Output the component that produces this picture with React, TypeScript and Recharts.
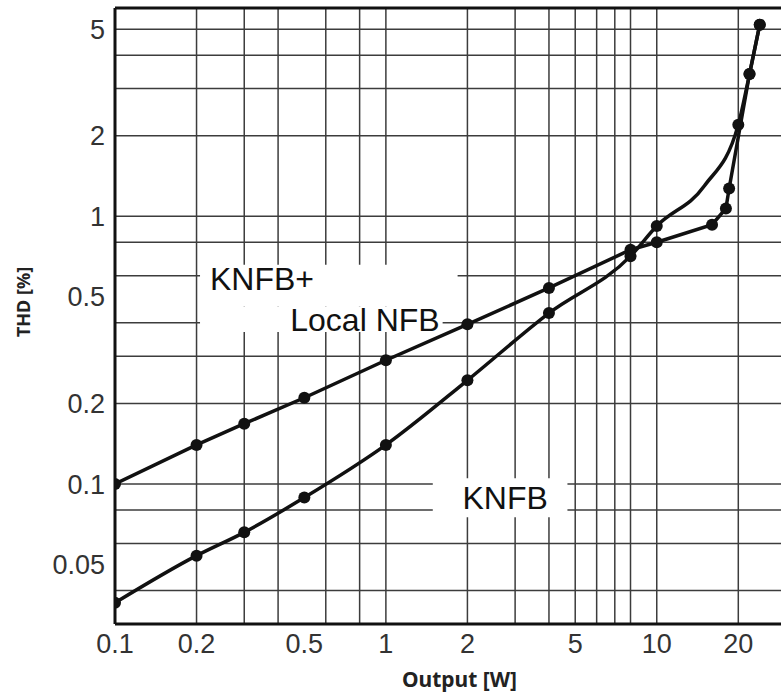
import React from "react";
import {
  CartesianGrid,
  ComposedChart,
  Line,
  ReferenceArea,
  ReferenceLine,
  XAxis,
  YAxis
} from "recharts";

// Output power [W] and THD [%] for each amplifier configuration
const knfbLocalW = [0.1, 0.2, 0.3, 0.5, 1, 2, 4, 8, 10, 16, 18, 18.5, 22, 24];
const knfbLocalThd = [0.1, 0.14, 0.168, 0.21, 0.29, 0.395, 0.54, 0.75, 0.8, 0.93, 1.07, 1.27, 3.4, 5.2];

const knfbW = [0.1, 0.2, 0.3, 0.5, 1, 2, 4, 8, 10, 15, 20, 22, 24];
const knfbThd = [0.036, 0.054, 0.066, 0.089, 0.14, 0.244, 0.435, 0.71, 0.92, 1.3, 2.2, 3.4, 5.2];
// points read along the drawn curve that carry no marker
const knfbUnmarked = [15];

const xTicks = [0.1, 0.2, 0.5, 1, 2, 5, 10, 20];
const yTicks = [0.05, 0.1, 0.2, 0.5, 1, 2, 5];

const xGrid = [0.2, 0.3, 0.4, 0.5, 0.6, 0.7, 0.8, 0.9, 1, 2, 3, 4, 5, 6, 7, 8, 9, 10, 20];
const yGrid = [
  0.04, 0.05, 0.06, 0.07, 0.08, 0.09, 0.1, 0.2, 0.3, 0.4, 0.5, 0.6, 0.7, 0.8, 0.9, 1, 2, 3, 4, 5
];

const knfbLocalData = knfbLocalW.map((w, i) => ({ w, thd: knfbLocalThd[i] }));
const knfbData = knfbW.map((w, i) => ({ w, thd: knfbThd[i] }));

const INK = "#111";
const DOT_R = 6;
const tickStyle = { fill: "#333", fontSize: 27, fontFamily: "Liberation Sans" };
const curveLabel = { fill: INK, fontSize: 32, fontFamily: "Liberation Sans" };

const knfbDot = (props: any) => {
  const { cx, cy, payload, index } = props;
  if (knfbUnmarked.includes(payload.w)) return <g key={`u-${index}`} />;
  return <circle key={`d-${index}`} cx={cx} cy={cy} r={DOT_R} fill={INK} />;
};

function ThdTitle(props: any) {
  const { viewBox } = props;
  const x = viewBox.x + 23;
  const y = viewBox.y + viewBox.height / 2 - 14;
  return (
    <text
      x={x}
      y={y}
      transform={`rotate(-90 ${x} ${y})`}
      textAnchor="middle"
      dominantBaseline="central"
      fill="#222"
      fontSize={18}
      fontWeight={700}
      fontFamily="Noto Sans"
    >
      THD [%]
    </text>
  );
}

export default function App() {
  return (
    <div style={{ position: "absolute", left: 0, top: 0, width: 781, height: 697, overflow: "hidden", background: "#fff" }}>
      <ComposedChart width={786} height={697} margin={{ top: 8, right: 0, bottom: 0, left: 0 }}>
        <CartesianGrid
          stroke="#3c3c3c"
          strokeWidth={1.5}
          horizontalValues={yGrid}
          verticalValues={xGrid}
        />
        <XAxis
          dataKey="w"
          type="number"
          scale="log"
          domain={[0.1, 30]}
          allowDataOverflow
          ticks={xTicks}
          tickFormatter={(v: number) => String(v)}
          height={73}
          tickLine={false}
          tickSize={0}
          tickMargin={10}
          axisLine={{ stroke: INK, strokeWidth: 3 }}
          tick={tickStyle}
          label={{
            value: "Output [W]",
            position: "insideBottom",
            offset: 10,
            dx: 9,
            fill: "#222",
            fontSize: 21,
            fontWeight: 700,
            fontFamily: "Noto Sans"
          }}
        />
        <YAxis
          type="number"
          scale="log"
          domain={[0.03, 6]}
          allowDataOverflow
          ticks={yTicks}
          tickFormatter={(v: number) => String(v)}
          width={115}
          tickLine={false}
          tickSize={0}
          tickMargin={10}
          axisLine={{ stroke: INK, strokeWidth: 3 }}
          tick={tickStyle}
          label={<ThdTitle />}
        />
        <ReferenceLine y={6} stroke={INK} strokeWidth={3} />

        {/* white panels behind the curve names */}
        <ReferenceArea
          x1={0.206}
          x2={1.84}
          y1={0.46}
          y2={0.66}
          fill="#fff"
          fillOpacity={1}
          stroke="none"
          label={{ value: "KNFB+", position: "insideTopLeft", offset: 3, dx: 7, ...curveLabel }}
        />
        <ReferenceArea
          x1={0.206}
          x2={1.62}
          y1={0.37}
          y2={0.46}
          fill="#fff"
          fillOpacity={1}
          stroke="none"
          label={{ value: "Local NFB", position: "insideRight", offset: 3, ...curveLabel }}
        />
        <ReferenceArea
          x1={1.49}
          x2={4.68}
          y1={0.0751}
          y2={0.105}
          fill="#fff"
          fillOpacity={1}
          stroke="none"
          label={{ value: "KNFB", position: "center", dx: 5, ...curveLabel }}
        />

        <Line
          data={knfbLocalData}
          dataKey="thd"
          type="linear"
          stroke={INK}
          strokeWidth={3.5}
          dot={{ r: DOT_R, fill: INK, stroke: INK, strokeWidth: 0 }}
          activeDot={false}
          isAnimationActive={false}
        />
        <Line
          data={knfbData}
          dataKey="thd"
          type="monotone"
          stroke={INK}
          strokeWidth={3.5}
          dot={knfbDot}
          activeDot={false}
          isAnimationActive={false}
        />
      </ComposedChart>
    </div>
  );
}
